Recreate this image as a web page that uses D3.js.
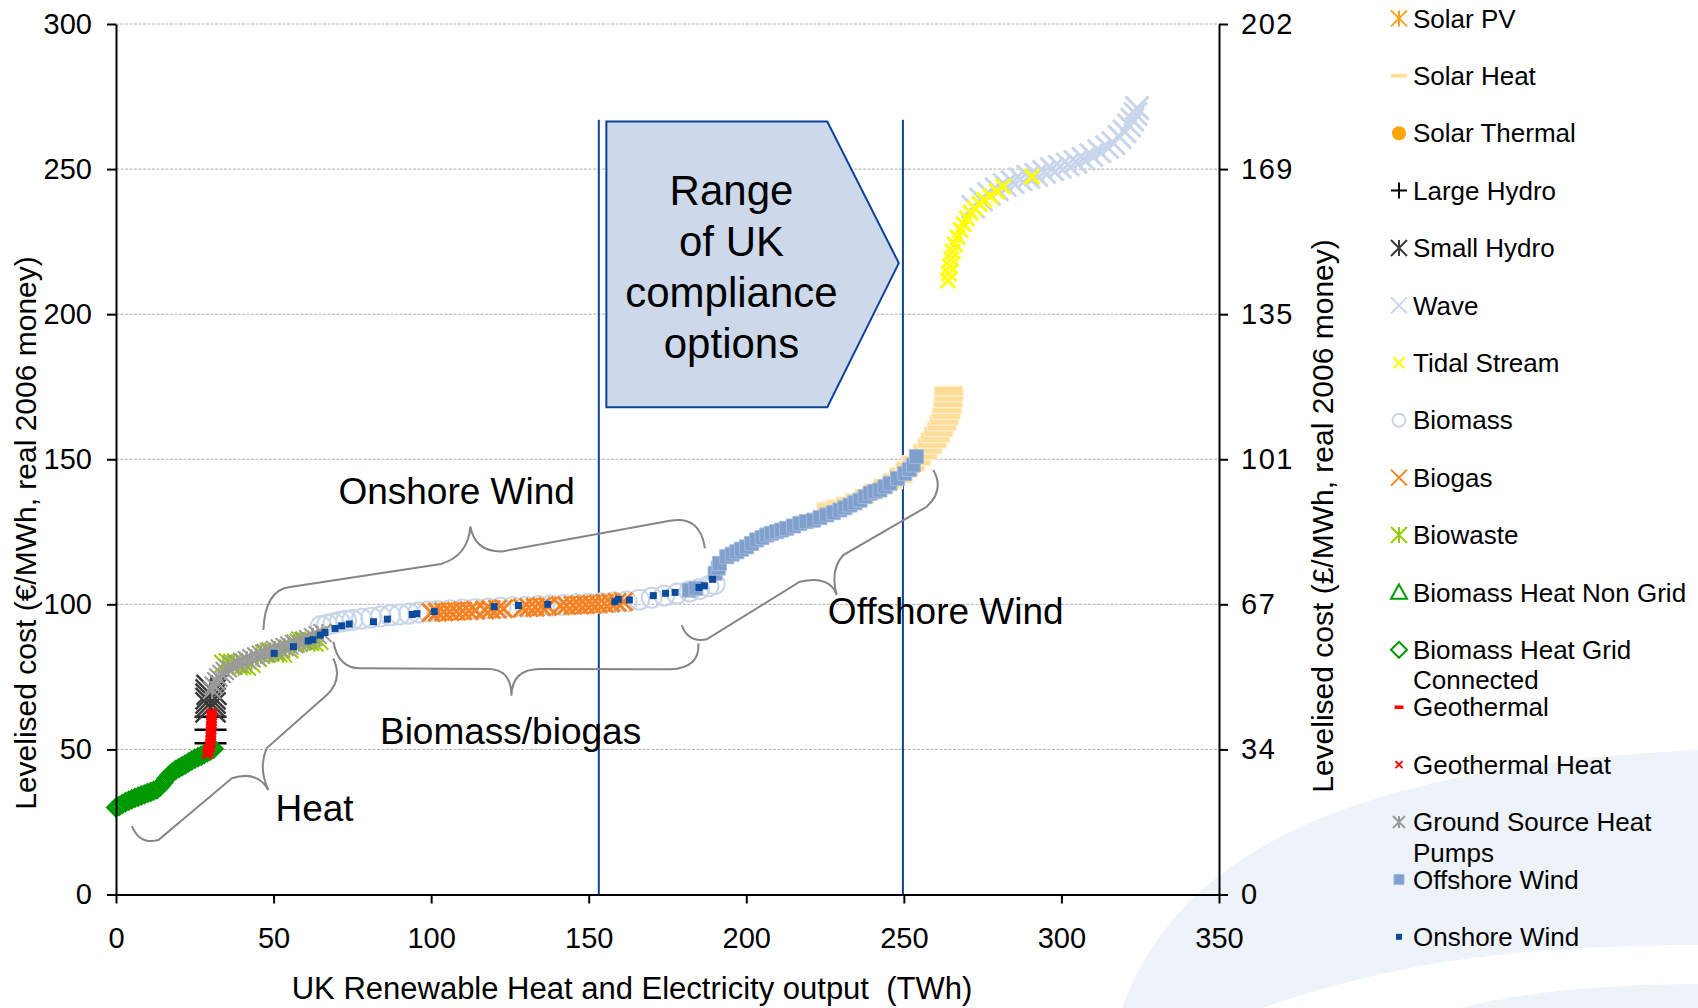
<!DOCTYPE html>
<html>
<head>
<meta charset="utf-8">
<script src="https://cdn.jsdelivr.net/npm/d3@7"></script>
<style>
  html, body { margin: 0; padding: 0; background: #fff; }
  svg { display: block; font-family: "Liberation Sans", Arial, sans-serif; }
</style>
</head>
<body>
<svg id="chart" width="1698" height="1008"></svg>
<script>
// values (x: TWh, y: EUR/MWh)
const xTicks = [0, 50, 100, 150, 200, 250, 300, 350]
const yTicks = [0, 50, 100, 150, 200, 250, 300]
const yTicksGbp = ['0', '34', '67', '101', '135', '169', '202']

const solarPV = []
const solarHeat = [[227, 133.5], [230, 134.3], [233, 135.3], [236, 136.5], [239, 138], [242, 139.8], [245, 141.5], [248, 143.5], [250, 145.5], [252, 147.5], [254, 149.5], [256, 151.5], [257.5, 153.5], [259, 155.5], [260, 157.5], [261, 159.5], [262, 161.5], [262.8, 163.5], [263.4, 165.5], [263.8, 167.5], [264, 169.5], [264.2, 171.5], [264.2, 173.5]]
const solarThermal = []
const largeHydro = [[30, 52.1], [30, 56.8], [30, 61.3]]
const smallHydro = [[30, 64.5], [30, 66], [30, 67.5], [30, 69], [30.3, 70.5]]
const wave = [[272, 237], [274.5, 239.5], [277, 241.5], [279.5, 243], [282, 244.5], [284.5, 245.5], [287, 246.5], [289.5, 247.3], [292, 248], [294.5, 249], [297, 250], [299.5, 250.8], [302, 251.6], [304.5, 252.5], [307, 253.5], [309.5, 254.8], [312, 256.2], [314.5, 257.6], [316.5, 259], [318.5, 261], [320, 263], [321.5, 265], [322.5, 267], [323.5, 269], [324, 271]]
const tidalStream = [[264, 211.5], [264.3, 214], [264.6, 216.5], [265, 219], [265.5, 221.5], [266.2, 224], [267, 226.5], [268, 229], [269, 231], [270, 233], [271.2, 235], [272.5, 236.5], [274, 238], [275.5, 239.3], [277.5, 240.7], [279.5, 242.3], [281.5, 244], [290.6, 247.4]]
const biomass = [[65, 92.5], [67, 93], [69, 93.5], [71, 94], [73, 94.3], [75, 94.6], [78, 95], [81, 95.4], [84, 95.8], [87, 96.2], [90, 96.5], [93, 96.8], [96, 97.2], [99, 97.5], [102, 97.7], [106, 98], [110, 98.2], [114, 98.4], [118, 98.6], [122, 98.8], [126, 99], [130, 99.2], [134, 99.4], [138, 99.6], [142, 99.8], [146, 100], [150, 100.2], [154, 100.4], [158, 100.7], [162, 101], [166, 101.6], [170, 102.3], [174, 103], [178, 103.7], [182, 104.4], [185, 105.2], [188, 106.2], [190, 107]]
const biogas = [[100, 97.2], [102, 97.3], [104, 97.4], [106, 97.5], [108, 97.6], [110, 97.7], [112, 97.8], [114, 97.9], [117, 98.1], [119, 98.2], [121, 98.3], [123, 98.5], [129, 98.8], [131, 98.9], [133, 99], [135, 99.2], [137, 99.3], [141, 99.5], [143, 99.6], [145, 99.7], [147, 99.8], [149, 99.9], [151, 100], [153, 100.1], [155, 100.3], [157, 100.5], [159, 100.7], [161, 100.9]]
const biowaste = [[34, 79.5], [35.5, 80], [37, 79.8], [38.5, 79.2], [40, 78.8], [41.5, 78.6], [43, 79.5], [45, 81.5], [47, 83], [48.5, 83.5], [50, 83.8], [51.5, 83.2], [53, 83], [55, 84.5], [57, 86.5], [58.5, 87.5], [60, 87.5], [61.5, 87], [63, 86.8], [64.5, 87.5]]
const biomassHeatNonGrid = []
const biomassHeatGrid = [[0, 30], [1, 30.5], [2, 31.2], [3, 31.8], [4, 32.3], [5, 32.8], [6, 33.3], [7, 33.7], [8, 34.1], [9, 34.5], [10, 35], [11, 35.3], [12, 35.8], [13, 36.3], [14, 37.2], [15, 38.5], [16, 40], [17, 41.2], [18, 42.2], [19, 43], [20, 43.6], [21, 44.2], [22, 44.8], [23, 45.5], [24, 46.2], [25, 46.8], [26, 47.3], [27, 47.8], [28, 48.4], [29, 49], [30, 49.6], [31, 50.2]]
const geothermal = [[30.2, 57], [30.3, 59], [30.3, 61], [30.4, 62.5]]
const geothermalHeat = [[29, 48.5], [29.3, 49.5], [29.6, 50.5], [29.8, 51.5], [30, 52.5], [30, 53.5], [30.1, 54.5], [30.1, 55.5], [30.2, 56.5], [30.2, 57.5], [30.3, 58.5], [30.3, 59.5], [30.3, 60.5], [30.4, 61.5], [30.4, 62.5]]
const groundSourceHP = [[30.5, 70.5], [31, 72], [31.8, 73.5], [32.5, 74.8], [33.5, 76], [34.5, 77], [35.5, 78], [37, 78.8], [38.5, 79.5], [40, 80.2], [41.5, 80.8], [43, 81.4], [44.5, 82], [46, 82.6], [47.5, 83.2], [49, 83.8], [50.5, 84.3], [52, 84.8], [53.5, 85.3], [55, 85.8], [56.5, 86.3], [58, 86.8], [59.5, 87.4], [61, 88], [62.5, 88.7], [64, 89.4], [65.5, 90.1]]
const offshoreWind = [[181.9, 104.9], [184, 105.5], [190.1, 110.7], [191.1, 112.5], [191.5, 114.1], [193.8, 116.4], [195.5, 117.3], [197, 118.1], [198.5, 119], [200.1, 119.8], [201.7, 121], [203.3, 122.2], [205, 123], [206.5, 123.9], [208, 124.5], [209.6, 125], [211.2, 125.6], [212.8, 126.2], [215, 127], [217, 127.9], [219, 128.5], [221.3, 129], [223.4, 129.9], [225.5, 130.8], [227.6, 131.6], [229.7, 132.5], [231.3, 133.3], [232.9, 134.2], [234.5, 135], [236.1, 135.9], [237.7, 137.1], [239.3, 138.3], [240.8, 138.9], [242.4, 139.4], [244, 140.5], [245.6, 141.7], [248, 143.4], [250.3, 145.1], [251.7, 146.5], [253, 148], [254, 150.9]]
const onshoreWind = [[50.2, 83.1], [56.3, 85.4], [61, 87.4], [62.5, 87.8], [64.8, 89.4], [66.3, 90.3], [69.5, 91.7], [71.6, 92.6], [74, 93.2], [81.7, 94], [86.1, 94.9], [94, 96.5], [95.5, 96.8], [101, 97.5], [120, 99.2], [127.7, 99.6], [137, 100], [158.3, 100.9], [159.4, 101.7], [162.9, 101.5], [170.5, 103], [174.4, 103.8], [177.4, 104.1], [185, 105.8], [186.7, 106.4], [189.3, 108.6]]

// compliance range, box and label positions (data units)
const complianceRange = [153.2, 249.7]
const complianceTop = 267
const boxLines = ['Range', 'of UK', 'compliance', 'options']

const W = 1698
const H = 1008
const margin = { top: 24, right: 479, bottom: 113.5, left: 116 }
const iw = W - margin.left - margin.right
const ih = H - margin.top - margin.bottom

const svg = d3.select('#chart')

// slide background swoosh
svg.append('path')
  .attr('d', 'M1122,1008 C1175,862 1330,768 1698,750 L1698,945 C1530,945 1400,960 1262,1008 Z')
  .attr('fill', '#eef3fa')
svg.append('path')
  .attr('d', 'M1460,1008 C1530,990 1620,984 1698,984 L1698,1008 Z')
  .attr('fill', '#eef3fa')

const g = svg.append('g').attr('transform', `translate(${margin.left},${margin.top})`)

const x = d3.scaleLinear().domain([0, 350]).range([0, iw])
const y = d3.scaleLinear().domain([0, 300]).range([ih, 0])

// gridlines
g.append('g')
  .selectAll('line')
  .data(yTicks.filter((d) => d > 0))
  .join('line')
  .attr('x1', 0).attr('x2', iw)
  .attr('y1', (d) => y(d)).attr('y2', (d) => y(d))
  .attr('stroke', '#b0b0b0')
  .attr('stroke-width', 1)
  .attr('stroke-dasharray', '3,1.5')

// compliance range lines
g.append('g')
  .selectAll('line')
  .data(complianceRange)
  .join('line')
  .attr('x1', (d) => x(d)).attr('x2', (d) => x(d))
  .attr('y1', y(complianceTop)).attr('y2', y(0))
  .attr('stroke', '#0d4396')
  .attr('stroke-width', 2)

// range box (pentagon arrow)
const box = { x0: 155.6, x1: 225.7, tip: 248.4, top: 266.4, bottom: 167.9, mid: 217.6 }
g.append('path')
  .attr('d', `M${x(box.x0)},${y(box.top)}L${x(box.x1)},${y(box.top)}L${x(box.tip)},${y(box.mid)}` +
    `L${x(box.x1)},${y(box.bottom)}L${x(box.x0)},${y(box.bottom)}Z`)
  .attr('fill', '#cdd9ea')
  .attr('stroke', '#0d4396')
  .attr('stroke-width', 2)

g.append('text')
  .attr('font-size', 42)
  .attr('text-anchor', 'middle')
  .selectAll('tspan')
  .data(boxLines)
  .join('tspan')
  .attr('x', x(195.3))
  .attr('y', (d, i) => y(237.5) + i * 51)
  .text((d) => d)

// marker shapes
function markerPath (shape, k, w, h) {
  const xs = `M${-k},${-k}L${k},${k}M${-k},${k}L${k},${-k}`
  switch (shape) {
    case 'x': return xs
    case 'star': return xs + `M0,${-k}L0,${k}`
    case 'plus': return `M${-k},0L${k},0M0,${-k}L0,${k}`
    case 'diamond': return `M0,${-k}L${k},0L0,${k}L${-k},0Z`
    case 'triangle': return `M0,${-k}L${k},${k * 0.8}L${-k},${k * 0.8}Z`
    case 'square': return `M${-k},${-k}h${2 * k}v${2 * k}h${-2 * k}Z`
    case 'dash': return `M${-w / 2},${-h / 2}h${w}v${h}h${-w}Z`
    case 'circle':
    case 'dot': return `M${k},0A${k},${k} 0 1,1 ${-k},0A${k},${k} 0 1,1 ${k},0Z`
  }
}

const filled = new Set(['square', 'dash', 'dot'])

const series = [
  { name: ['Solar PV'], data: solarPV, shape: 'star', size: 8, legend: 8, color: '#f7a21b', sw: 2 },
  { name: ['Solar Heat'], data: solarHeat, shape: 'dash', w: 29, h: 10, lw: 16, lh: 4, color: '#fedd9b', edge: '#fff2d6' },
  { name: ['Solar Thermal'], data: solarThermal, shape: 'dot', size: 7, legend: 7, color: '#ffa500' },
  { name: ['Large Hydro'], data: largeHydro, shape: 'plus', size: 16, legend: 8, color: '#000', sw: 2.5 },
  { name: ['Small Hydro'], data: smallHydro, shape: 'star', size: 15, legend: 8, color: '#3a3a3a', sw: 2.5 },
  { name: ['Wave'], data: wave, shape: 'x', size: 11.5, legend: 8, color: '#c8d5ea', sw: 3 },
  { name: ['Tidal Stream'], data: tidalStream, shape: 'x', size: 7.5, legend: 5.5, color: '#ffff00', sw: 3 },
  { name: ['Biomass'], data: biomass, shape: 'circle', size: 10, legend: 6.5, color: '#c9d6ea', sw: 2 },
  { name: ['Biogas'], data: biogas, shape: 'x', size: 9, legend: 8, color: '#f7821f', sw: 3 },
  { name: ['Biowaste'], data: biowaste, shape: 'star', size: 9, legend: 8, color: '#99cc00', sw: 2 },
  { name: ['Biomass Heat Non Grid'], data: biomassHeatNonGrid, shape: 'triangle', size: 8, legend: 8, color: '#009900', sw: 2 },
  { name: ['Biomass Heat Grid', 'Connected'], data: biomassHeatGrid, shape: 'diamond', size: 8, legend: 8, color: '#009900', sw: 3.5 },
  { name: ['Geothermal'], data: geothermal, shape: 'dash', w: 10, h: 4, lw: 9, lh: 3.5, color: '#ff0000' },
  { name: ['Geothermal Heat'], data: geothermalHeat, shape: 'x', size: 4.5, legend: 3.5, color: '#ff0000', sw: 3.5 },
  { name: ['Ground Source Heat', 'Pumps'], data: groundSourceHP, shape: 'star', size: 9, legend: 6, color: '#9a9a9a', sw: 2 },
  { name: ['Offshore Wind'], data: offshoreWind, shape: 'square', size: 7, legend: 5, color: '#7f9fcc', edge: '#a3b9dc' },
  { name: ['Onshore Wind'], data: onshoreWind, shape: 'square', size: 3.5, legend: 3, color: '#0c4a9b' }
]

function styleMarker (sel, s) {
  const isFilled = filled.has(s.shape)
  sel.attr('fill', isFilled ? s.color : 'none')
    .attr('stroke', isFilled ? (s.edge || 'none') : s.color)
    .attr('stroke-width', isFilled ? 1 : s.sw)
}

// scatter series, in legend order (later on top)
series.forEach((s) => {
  const d = markerPath(s.shape, s.size, s.w, s.h)
  g.append('g')
    .selectAll('path')
    .data(s.data)
    .join('path')
    .attr('transform', (p) => `translate(${x(p[0])},${y(p[1])})`)
    .attr('d', d)
    .call(styleMarker, s)
})

// curly braces (data units)
const braces = [
  [['M', 5.01, 23.6], ['Q', 7.6, 17.05, 13.45, 18.78], ['L', 36.74, 40.04], ['Q', 44.77, 42.9, 48.35, 36.01],
    ['Q', 45.08, 43.59, 47.84, 50.48], ['L', 66.88, 68.75], ['Q', 72.05, 73.91, 68.97, 81.39]],
  [['M', 46.76, 91.14], ['Q', 47.3, 104.93, 55.23, 105.96], ['L', 103.14, 113.92], ['Q', 111.71, 116.64, 112.44, 126.81],
    ['Q', 113.93, 118.02, 122.46, 118.23], ['L', 175.79, 128.81], ['Q', 185.31, 130.77, 186.89, 119.3]],
  [['M', 68.97, 87.11], ['Q', 70.46, 78.05, 77.44, 77.95], ['L', 117.64, 77.74], ['Q', 125.35, 78.05, 125.48, 68.54],
    ['Q', 125.67, 77.74, 134.55, 77.74], ['L', 175.79, 77.6], ['Q', 185.31, 78.05, 184.77, 86.56]],
  [['M', 179.51, 92.87], ['Q', 181.5, 86.66, 187.44, 87.94], ['L', 216.97, 107.79], ['Q', 226.49, 110.1, 228.68, 103.2],
    ['Q', 226.49, 111.82, 230.77, 116.99], ['L', 257.23, 133.63], ['Q', 263.04, 139.39, 259.33, 146.28]]
]

function bracePath (cmds) {
  return cmds.map((c) => {
    const pts = []
    for (let i = 1; i < c.length; i += 2) pts.push(`${x(c[i])},${y(c[i + 1])}`)
    return c[0] + pts.join(' ')
  }).join('')
}

g.append('g')
  .selectAll('path')
  .data(braces)
  .join('path')
  .attr('d', bracePath)
  .attr('fill', 'none')
  .attr('stroke', '#858585')
  .attr('stroke-width', 2)

const labels = [
  { text: 'Onshore Wind', x: 108.1, y: 134.5 },
  { text: 'Biomass/biogas', x: 125.2, y: 52 },
  { text: 'Heat', x: 63, y: 25.2 },
  { text: 'Offshore Wind', x: 263.3, y: 93.2 }
]

g.append('g')
  .selectAll('text')
  .data(labels)
  .join('text')
  .attr('x', (d) => x(d.x))
  .attr('y', (d) => y(d.y))
  .attr('text-anchor', 'middle')
  .attr('font-size', 37)
  .text((d) => d.text)

// axes
const axisLeft = g.append('g')
  .call(d3.axisLeft(y).tickValues(yTicks).tickSize(9).tickSizeOuter(0).tickPadding(15))
const axisBottom = g.append('g')
  .attr('transform', `translate(0,${ih})`)
  .call(d3.axisBottom(x).tickValues(xTicks).tickSize(9).tickSizeOuter(0).tickPadding(24))
const axisRight = g.append('g')
  .attr('transform', `translate(${iw},0)`)
  .call(d3.axisRight(y).tickValues(yTicks).tickSize(9).tickSizeOuter(0).tickPadding(13)
    .tickFormat((d, i) => yTicksGbp[i]))

;[axisLeft, axisBottom, axisRight].forEach((a) => {
  a.attr('font-family', null).attr('font-size', 29)
  a.selectAll('path, line').attr('stroke', '#000').attr('stroke-width', 2)
  a.selectAll('text').attr('fill', '#000')
})
axisRight.selectAll('text').attr('letter-spacing', 1.5)

// axis titles
svg.append('text')
  .attr('x', 632).attr('y', 999)
  .attr('text-anchor', 'middle')
  .attr('font-size', 31)
  .style('white-space', 'pre')
  .text('UK Renewable Heat and Electricity output  (TWh)')

svg.append('text')
  .attr('transform', 'translate(36,533) rotate(-90)')
  .attr('text-anchor', 'middle')
  .attr('font-size', 30)
  .text('Levelised cost (€/MWh, real 2006 money)')

svg.append('text')
  .attr('transform', 'translate(1333,516) rotate(-90)')
  .attr('text-anchor', 'middle')
  .attr('font-size', 30)
  .text('Levelised cost (£/MWh, real 2006 money)')

// legend
const legend = svg.append('g').attr('transform', 'translate(1399,18.4)')
const rows = legend.selectAll('g')
  .data(series)
  .join('g')
  .attr('transform', (d, i) => `translate(0,${i * 57.4})`)

rows.append('path')
  .attr('d', (s) => markerPath(s.shape, s.legend, s.lw, s.lh))
  .each(function (s) {
    d3.select(this).call(styleMarker, s)
    if (s.shape !== 'square' && s.shape !== 'dash' && s.shape !== 'dot') d3.select(this).attr('stroke-width', 2)
  })

rows.append('text')
  .attr('x', 14)
  .attr('font-size', 26)
  .selectAll('tspan')
  .data((s) => s.name)
  .join('tspan')
  .attr('x', 14)
  .attr('y', (d, i) => i * 30.4)
  .attr('dy', '0.35em')
  .text((d) => d)
</script>
</body>
</html>
